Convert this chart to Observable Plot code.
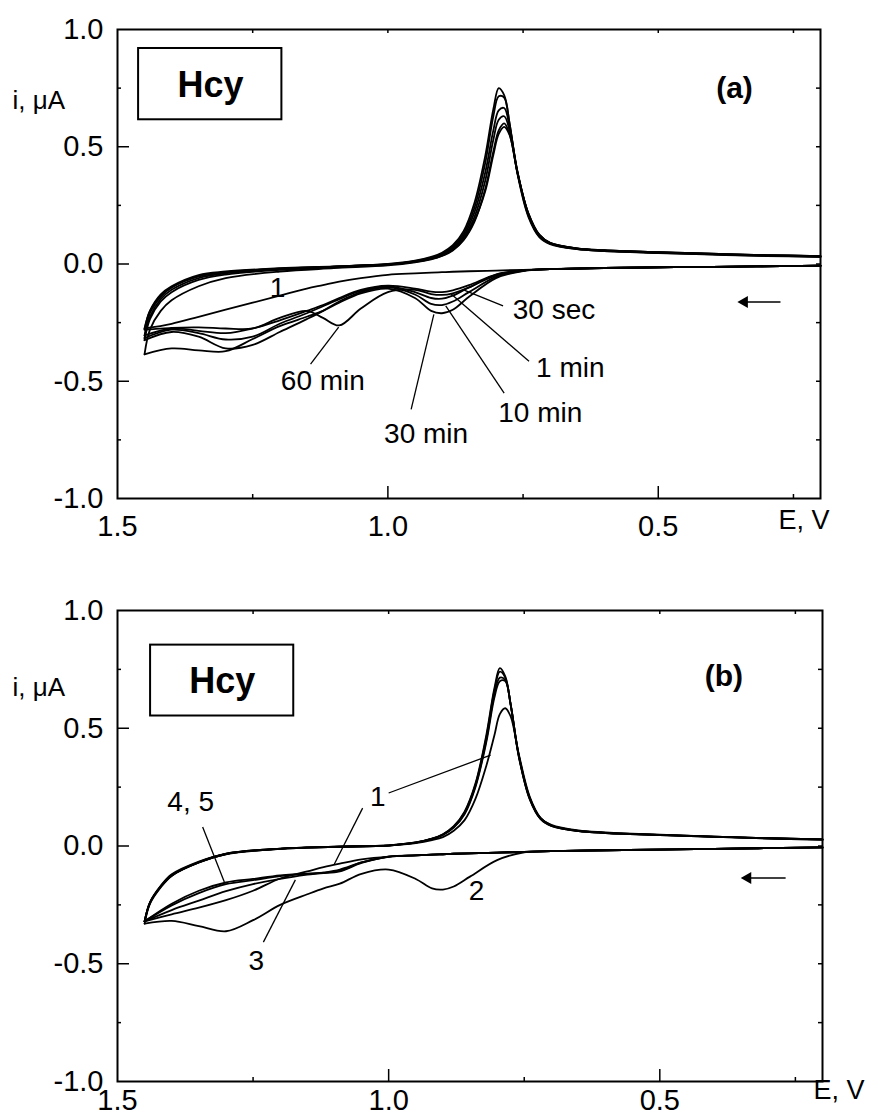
<!DOCTYPE html>
<html><head><meta charset="utf-8">
<script src="https://cdn.jsdelivr.net/npm/d3@7"></script>
<script src="https://cdn.jsdelivr.net/npm/@observablehq/plot@0.6"></script>
<style>
body{margin:0;background:#fff;}
#chart svg{display:block;}
</style></head><body><div id="chart"></div>
<script>
// ---------- axis ticks ----------
const xLabelTicks = [1.5, 1.0, 0.5];
const xMajorTicks = [1.0, 0.5];
const xMinorTicks = [1.25, 0.75, 0.25];
const xTopTicks = [1.25, 1.0, 0.75, 0.5, 0.25];
const yLabelTicks = [1.0, 0.5, 0.0, -0.5, -1.0];
const yMajorTicks = [0.5, 0.0, -0.5];
const yMinorTicks = [0.75, 0.25, -0.25, -0.75];
const yRightTicks = [0.75, 0.5, 0.25, 0.0, -0.25, -0.5, -0.75];

// ---------- potential grids (V) ----------
// forward scan (0.2 -> 1.45 V, lower branch)
const FE = [0.2, 0.4, 0.6, 0.7, 0.75, 0.8, 0.85, 0.88, 0.9, 0.92, 0.95, 1.0, 1.05, 1.09, 1.12, 1.15, 1.2, 1.25, 1.3, 1.35, 1.4, 1.45];
// reverse scan (1.45 -> 0.2 V, upper branch)
const RE = [1.45, 1.44, 1.42, 1.40, 1.35, 1.30, 1.20, 1.10, 1.00, 0.95, 0.92, 0.90, 0.88, 0.86, 0.84, 0.82, 0.805, 0.795, 0.785, 0.775, 0.76, 0.74, 0.72, 0.70, 0.65, 0.60, 0.50, 0.40, 0.30, 0.20];

// ---------- panel (a): currents (uA) ----------
const seriesA = ["1", "30 sec", "1 min", "10 min", "30 min", "60 min"];
const a1_fwd   = [-0.007,-0.012,-0.017,-0.022,-0.025,-0.028,-0.031,-0.033,-0.035,-0.037,-0.04,-0.046,-0.06,-0.075,-0.09,-0.105,-0.135,-0.165,-0.195,-0.225,-0.255,-0.275];
const a30s_fwd = [-0.007,-0.012,-0.017,-0.022,-0.027,-0.045,-0.09,-0.112,-0.12,-0.118,-0.105,-0.092,-0.11,-0.145,-0.175,-0.2,-0.24,-0.275,-0.295,-0.285,-0.275,-0.305];
const a1m_fwd  = [-0.007,-0.012,-0.017,-0.022,-0.028,-0.05,-0.1,-0.135,-0.148,-0.145,-0.12,-0.095,-0.115,-0.15,-0.18,-0.21,-0.255,-0.31,-0.322,-0.295,-0.28,-0.316];
const a10m_fwd = [-0.007,-0.012,-0.017,-0.022,-0.029,-0.055,-0.12,-0.16,-0.175,-0.17,-0.13,-0.1,-0.12,-0.16,-0.2,-0.235,-0.29,-0.345,-0.36,-0.31,-0.29,-0.325];
const a30m_fwd = [-0.007,-0.012,-0.017,-0.022,-0.03,-0.06,-0.14,-0.195,-0.21,-0.2,-0.145,-0.105,-0.125,-0.165,-0.2,-0.225,-0.265,-0.32,-0.372,-0.368,-0.36,-0.385];
const a60m_fwd = [-0.007,-0.012,-0.017,-0.022,-0.027,-0.045,-0.1,-0.125,-0.132,-0.128,-0.11,-0.12,-0.19,-0.262,-0.23,-0.2,-0.23,-0.275,-0.275,-0.27,-0.272,-0.28];

const a1_rev   = [-0.275,-0.2,-0.13,-0.095,-0.047,-0.032,-0.018,-0.01,0.0,0.014,0.03,0.048,0.08,0.14,0.26,0.46,0.66,0.75,0.72,0.6,0.38,0.2,0.115,0.085,0.063,0.055,0.047,0.04,0.034,0.03];
const a30s_rev = [-0.305,-0.21,-0.14,-0.1,-0.052,-0.035,-0.02,-0.011,-0.001,0.012,0.027,0.044,0.074,0.13,0.24,0.43,0.63,0.715,0.71,0.6,0.385,0.205,0.118,0.087,0.064,0.056,0.048,0.041,0.035,0.031];
const a1m_rev  = [-0.316,-0.225,-0.15,-0.11,-0.06,-0.04,-0.022,-0.012,-0.002,0.011,0.025,0.041,0.069,0.12,0.22,0.39,0.57,0.655,0.665,0.585,0.39,0.21,0.12,0.088,0.065,0.057,0.049,0.042,0.036,0.032];
const a10m_rev = [-0.325,-0.235,-0.16,-0.12,-0.068,-0.045,-0.025,-0.014,-0.003,0.01,0.023,0.038,0.065,0.112,0.2,0.355,0.53,0.615,0.63,0.57,0.39,0.212,0.122,0.089,0.066,0.058,0.05,0.043,0.037,0.033];
const a30m_rev = [-0.385,-0.28,-0.2,-0.155,-0.095,-0.06,-0.032,-0.018,-0.006,0.007,0.02,0.034,0.058,0.102,0.18,0.32,0.48,0.57,0.6,0.555,0.385,0.215,0.125,0.09,0.067,0.059,0.051,0.044,0.038,0.034];
const a60m_rev = [-0.28,-0.2,-0.135,-0.1,-0.053,-0.036,-0.02,-0.011,-0.002,0.009,0.022,0.036,0.06,0.105,0.185,0.31,0.465,0.555,0.585,0.55,0.385,0.215,0.125,0.09,0.067,0.059,0.051,0.044,0.038,0.034];

// ---------- panel (b): currents (uA) ----------
const seriesB = ["1", "2", "3", "4", "5"];
const b1_fwd = [-0.006,-0.012,-0.018,-0.022,-0.025,-0.028,-0.031,-0.033,-0.035,-0.037,-0.04,-0.045,-0.057,-0.075,-0.09,-0.108,-0.138,-0.19,-0.23,-0.262,-0.29,-0.32];
const b2_fwd = [-0.006,-0.012,-0.018,-0.022,-0.027,-0.06,-0.13,-0.172,-0.185,-0.18,-0.14,-0.1,-0.118,-0.16,-0.18,-0.205,-0.25,-0.315,-0.362,-0.34,-0.318,-0.33];
const b3_fwd = [-0.006,-0.012,-0.018,-0.022,-0.025,-0.028,-0.031,-0.033,-0.035,-0.037,-0.04,-0.046,-0.07,-0.1,-0.113,-0.122,-0.14,-0.162,-0.192,-0.232,-0.272,-0.32];
const b4_fwd = [-0.006,-0.012,-0.018,-0.022,-0.025,-0.028,-0.031,-0.033,-0.035,-0.037,-0.04,-0.045,-0.072,-0.108,-0.115,-0.117,-0.125,-0.14,-0.155,-0.19,-0.245,-0.32];
const b5_fwd = [-0.006,-0.012,-0.018,-0.022,-0.025,-0.028,-0.031,-0.033,-0.035,-0.037,-0.04,-0.045,-0.07,-0.105,-0.113,-0.118,-0.128,-0.145,-0.162,-0.2,-0.252,-0.32];

const b1_rev = [-0.32,-0.24,-0.172,-0.125,-0.07,-0.034,-0.012,-0.004,0.002,0.012,0.025,0.038,0.065,0.11,0.2,0.34,0.47,0.56,0.585,0.55,0.39,0.21,0.12,0.09,0.066,0.058,0.048,0.04,0.033,0.028];
const b2_rev = [-0.33,-0.245,-0.175,-0.127,-0.07,-0.035,-0.012,-0.004,0.002,0.014,0.03,0.047,0.078,0.135,0.25,0.44,0.63,0.7,0.7,0.6,0.385,0.205,0.118,0.087,0.064,0.056,0.047,0.04,0.033,0.028];
const b3_rev = [-0.32,-0.24,-0.172,-0.125,-0.07,-0.034,-0.012,-0.004,0.002,0.014,0.03,0.048,0.08,0.14,0.255,0.45,0.645,0.715,0.705,0.6,0.385,0.205,0.118,0.087,0.064,0.056,0.047,0.04,0.033,0.028];
const b4_rev = [-0.32,-0.24,-0.17,-0.123,-0.068,-0.033,-0.011,-0.003,0.003,0.015,0.031,0.049,0.082,0.143,0.26,0.46,0.66,0.74,0.715,0.6,0.38,0.2,0.115,0.085,0.063,0.055,0.046,0.039,0.032,0.027];
const b5_rev = [-0.32,-0.238,-0.168,-0.12,-0.066,-0.032,-0.011,-0.003,0.003,0.015,0.031,0.05,0.084,0.146,0.265,0.47,0.67,0.755,0.72,0.6,0.38,0.2,0.115,0.085,0.063,0.055,0.046,0.039,0.032,0.027];

// ---------- annotations (data coordinates: E in V, i in uA) ----------
// labels whose text starts at the given point
const notesA_text = ["30 sec", "1 min", "10 min", "30 min", "60 min"];
const notesA_E    = [0.769, 0.726, 0.796, 1.007, 1.198];
const notesA_i    = [-0.197, -0.444, -0.637, -0.726, -0.5];
// labels centred on the given point
const notesA_ctext = ["1"];
const notesA_cE    = [1.204];
const notesA_ci    = [-0.103];
const leadersA_E1 = [0.859, 0.883, 0.893, 0.915, 1.091];
const leadersA_i1 = [-0.111, -0.128, -0.179, -0.215, -0.269];
const leadersA_E2 = [0.787, 0.739, 0.785, 0.957, 1.143];
const leadersA_i2 = [-0.179, -0.415, -0.551, -0.62, -0.427];

const notesB_text = [];
const notesB_E    = [];
const notesB_i    = [];
const notesB_ctext = ["1", "2", "3", "4, 5"];
const notesB_cE    = [1.02, 0.838, 1.244, 1.365];
const notesB_ci    = [0.208, -0.19, -0.488, 0.187];
const leadersB_E1 = [1.0, 1.048, 1.231, 1.343];
const leadersB_i1 = [0.225, 0.161, -0.408, 0.081];
const leadersB_E2 = [0.812, 1.101, 1.172, 1.303];
const leadersB_i2 = [0.386, -0.081, -0.144, -0.153];

const arrowA = {tip: 0.35, tail: 0.274, i: -0.162};
const arrowB = {tip: 0.347, tail: 0.268, i: -0.136};
const boxA = {E1: 1.461, E2: 1.196, i1: 0.615, i2: 0.919, tE: 1.328, tI: 0.76};
const boxB = {E1: 1.439, E2: 1.175, i1: 0.552, i2: 0.853, tE: 1.307, tI: 0.70};
const tagA = {text: "(a)", E: 0.359, i: 0.748};
const tagB = {text: "(b)", E: 0.382, i: 0.722};

// ---------- build ----------
const FONT = "'Liberation Sans', Arial, Helvetica, sans-serif";

function buildRows(names, fwds, revs) {
  const out = [];
  names.forEach((n, k) => {
    FE.forEach((E, j) => out.push({s: n + "-f", E, i: fwds[k][j]}));
    RE.forEach((E, j) => out.push({s: n + "-r", E, i: revs[k][j]}));
  });
  return out;
}
function zipNotes(t, E, I) { return t.map((d, j) => ({t: d, E: E[j], i: I[j]})); }
function zipLeaders(E1, I1, E2, I2) { return E1.map((d, j) => ({E1: d, i1: I1[j], E2: E2[j], i2: I2[j]})); }

const rowsA = buildRows(seriesA,
  [a1_fwd, a30s_fwd, a1m_fwd, a10m_fwd, a30m_fwd, a60m_fwd],
  [a1_rev, a30s_rev, a1m_rev, a10m_rev, a30m_rev, a60m_rev]);
const rowsB = buildRows(seriesB,
  [b1_fwd, b2_fwd, b3_fwd, b4_fwd, b5_fwd],
  [b1_rev, b2_rev, b3_rev, b4_rev, b5_rev]);

function panel(cfg) {
  const W = 874;
  const frameW = W - cfg.ml - cfg.mr;
  const frameH = cfg.h - cfg.mt - cfg.mb;
  return Plot.plot({
    width: W, height: cfg.h,
    marginLeft: cfg.ml, marginRight: cfg.mr, marginTop: cfg.mt, marginBottom: cfg.mb,
    x: {domain: [1.5, 0.2], label: null},
    y: {domain: [-1, 1], label: null},
    style: {fontFamily: FONT, color: "black", background: "white", overflow: "visible"},
    marks: [
      Plot.frame({stroke: "black", strokeWidth: 2}),
      // inward ticks
      Plot.ruleX(xMajorTicks, {insetTop: frameH - 12, stroke: "black", strokeWidth: 1.5}),
      Plot.ruleX(xMinorTicks, {insetTop: frameH - 4, stroke: "black", strokeWidth: 1.5}),
      Plot.ruleX(xTopTicks, {insetBottom: frameH - 4, stroke: "black", strokeWidth: 1.5}),
      Plot.ruleY(yMajorTicks, {insetRight: frameW - 12, stroke: "black", strokeWidth: 1.5}),
      Plot.ruleY(yMinorTicks, {insetRight: frameW - 4, stroke: "black", strokeWidth: 1.5}),
      Plot.ruleY(yRightTicks, {insetLeft: frameW - 4, stroke: "black", strokeWidth: 1.5}),
      Plot.axisX(xLabelTicks, {anchor: "bottom", tickSize: 0, tickPadding: cfg.xPad, fontSize: 29, tickFormat: d => d.toFixed(1)}),
      Plot.axisY(yLabelTicks, {anchor: "left", tickSize: 0, tickPadding: 14, fontSize: 29, tickFormat: d => d.toFixed(1)}),
      // curves
      Plot.line(cfg.rows, {x: "E", y: "i", z: "s", curve: "catmull-rom", stroke: "black", strokeWidth: 1.8}),
      // leaders and labels
      Plot.link(cfg.leaders, {x1: "E1", y1: "i1", x2: "E2", y2: "i2", stroke: "black", strokeWidth: 1.3}),
      Plot.text(cfg.notes, {x: "E", y: "i", text: "t", textAnchor: "start", fontSize: 28, fill: "black"}),
      Plot.text(cfg.cnotes, {x: "E", y: "i", text: "t", textAnchor: "middle", fontSize: 28, fill: "black"}),
      // scan direction arrow
      Plot.link([cfg.arrow], {x1: "tip", x2: "tail", y1: "i", y2: "i", stroke: "black", strokeWidth: 1.5}),
      Plot.dot([cfg.arrow], {x: "tip", y: "i", symbol: "triangle", r: 4.5, rotate: -90, fill: "black", stroke: "none", dx: 5}),
      // compound box
      Plot.rect([cfg.box], {x1: "E1", x2: "E2", y1: "i1", y2: "i2", fill: "white", stroke: "black", strokeWidth: 2}),
      Plot.text([cfg.box], {x: "tE", y: "tI", text: () => "Hcy", fontSize: 36, fontWeight: "bold", fill: "black"}),
      Plot.text([cfg.tag], {x: "E", y: "i", text: "text", fontSize: 30, fontWeight: "bold", fill: "black"}),
      // axis titles
      Plot.text(["i, \u03bcA"], {frameAnchor: "top-left", textAnchor: "start", dx: 12 - cfg.ml, dy: cfg.iLabelDy, fontSize: 26, fill: "black"}),
      Plot.text(["E, V"], {frameAnchor: "bottom-right", textAnchor: "start", dx: cfg.eDx, dy: cfg.eDy, fontSize: 27, fill: "black"})
    ]
  });
}

const chart = document.getElementById("chart");
chart.append(panel({
  h: 560, ml: 117, mr: 54, mt: 29, mb: 62, xPad: 17,
  rows: rowsA,
  notes: zipNotes(notesA_text, notesA_E, notesA_i),
  cnotes: zipNotes(notesA_ctext, notesA_cE, notesA_ci),
  leaders: zipLeaders(leadersA_E1, leadersA_i1, leadersA_E2, leadersA_i2),
  arrow: arrowA, box: boxA, tag: tagA,
  iLabelDy: 61, eDx: -42, eDy: 30
}));
chart.append(panel({
  h: 559, ml: 117, mr: 52, mt: 50, mb: 38, xPad: 8,
  rows: rowsB,
  notes: zipNotes(notesB_text, notesB_E, notesB_i),
  cnotes: zipNotes(notesB_ctext, notesB_cE, notesB_ci),
  leaders: zipLeaders(leadersB_E1, leadersB_i1, leadersB_E2, leadersB_i2),
  arrow: arrowB, box: boxB, tag: tagB,
  iLabelDy: 67, eDx: -9, eDy: 17
}));
</script></body></html>
